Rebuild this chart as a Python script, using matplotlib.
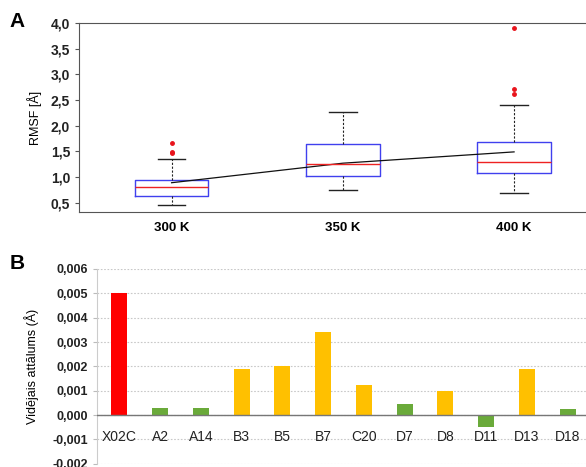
import numpy as np
import matplotlib
matplotlib.use("Agg")
import matplotlib.pyplot as plt
from matplotlib.ticker import FuncFormatter

plt.rcParams['font.family'] = ['Liberation Sans', 'DejaVu Sans']

# panel A: box summaries per temperature
temps = ['300 K', '350 K', '400 K']
wlo = [0.46, 0.74, 0.69]
q1 = [0.63, 1.03, 1.07]
med = [0.80, 1.26, 1.29]
q3 = [0.95, 1.64, 1.68]
whi = [1.36, 2.27, 2.41]
means = [0.89, 1.27, 1.49]
fliers = [[1.67, 1.49, 1.46], [], [3.90, 2.71, 2.61]]

# panel B: mean distance per residue
residues = ['X02C', 'A2', 'A14', 'B3', 'B5', 'B7', 'C20', 'D7', 'D8', 'D11', 'D13', 'D18']
dist = [0.0050, 0.0003, 0.00027, 0.0019, 0.0020, 0.0034, 0.00125, 0.00045, 0.0010, -0.0005, 0.0019, 0.00025]
groups = ['r', 'g', 'g', 'y', 'y', 'y', 'y', 'g', 'y', 'g', 'y', 'g']
colmap = {'r': '#ff0000', 'g': '#6aaa3a', 'y': '#ffc000'}

comma = FuncFormatter(lambda v, p: ('%.1f' % v).replace('.', ','))
comma3 = FuncFormatter(lambda v, p: ('%.3f' % v).replace('.', ','))

fig = plt.figure(figsize=(5.86, 4.67), dpi=100)

# ---- A ----
ax = fig.add_axes([0.135, 0.546, 0.865, 0.405])
stats = []
for i in range(3):
    stats.append(dict(whislo=wlo[i], q1=q1[i], med=med[i], q3=q3[i], whishi=whi[i],
                      fliers=fliers[i], label=temps[i]))
pos = [1, 2, 3]
ax.bxp(stats, positions=pos, widths=0.43, showfliers=True,
       boxprops=dict(color='#4040ee', lw=1.0),
       medianprops=dict(color='#ee2222', lw=1.0),
       whiskerprops=dict(color='#222222', lw=0.8, ls=(0, (2, 1.5))),
       capprops=dict(color='#222222', lw=1.0),
       capwidths=0.16,
       flierprops=dict(marker='o', markersize=2.5, markerfacecolor='#e8141c',
                       markeredgecolor='#e8141c'))
ax.plot(pos, means, color='#111111', lw=0.9)
ax.set_xlim(0.46, 3.42)
ax.set_ylim(0.32, 4.0)
ax.set_yticks(np.arange(0.5, 4.01, 0.5))
ax.yaxis.set_major_formatter(comma)
ax.tick_params(axis='y', labelsize=10, length=3, width=0.8, colors='#555555', labelcolor='#222222')
ax.tick_params(axis='x', length=0, labelsize=9.5, pad=7)
for t in ax.get_xticklabels() + ax.get_yticklabels():
    t.set_fontweight('bold')
ax.set_ylabel('RMSF [Å]', fontsize=9, labelpad=6)
for s in ['top', 'left', 'bottom']:
    ax.spines[s].set_color('#555555')
ax.spines['right'].set_visible(False)
fig.text(0.016, 0.955, 'A', fontsize=15, fontweight='bold', va='center')

# ---- B ----
bx = fig.add_axes([0.166, 0.007, 0.834, 0.417])
x = np.arange(len(residues))
bx.bar(x, dist, width=0.39, color=[colmap[g] for g in groups], zorder=3)
bx.axhline(0, color='#777777', lw=1.0, zorder=4)
bx.set_xlim(-0.54, 11.45)
bx.set_ylim(-0.002, 0.006)
bx.set_yticks(np.arange(-0.002, 0.0061, 0.001))
bx.yaxis.set_major_formatter(comma3)
bx.grid(axis='y', color='#c8c8c8', ls=(0, (1.5, 1.5)), lw=0.8, zorder=0)
bx.set_xticks([])
for i, r in enumerate(residues):
    bx.text(i, -0.00092, r, ha='center', va='center', fontsize=10, color='#222222')
bx.tick_params(axis='y', labelsize=9, length=3, width=0.8, colors='#bbbbbb', labelcolor='#222222')
for t in bx.get_yticklabels():
    t.set_fontweight('bold')
for s in ['top', 'right', 'bottom']:
    bx.spines[s].set_visible(False)
bx.spines['left'].set_color('#cccccc')
bx.set_ylabel('Vidējais attālums (Å)', fontsize=9, labelpad=10)
fig.text(0.016, 0.435, 'B', fontsize=15, fontweight='bold', va='center')

fig.savefig('out.png', dpi=100)
